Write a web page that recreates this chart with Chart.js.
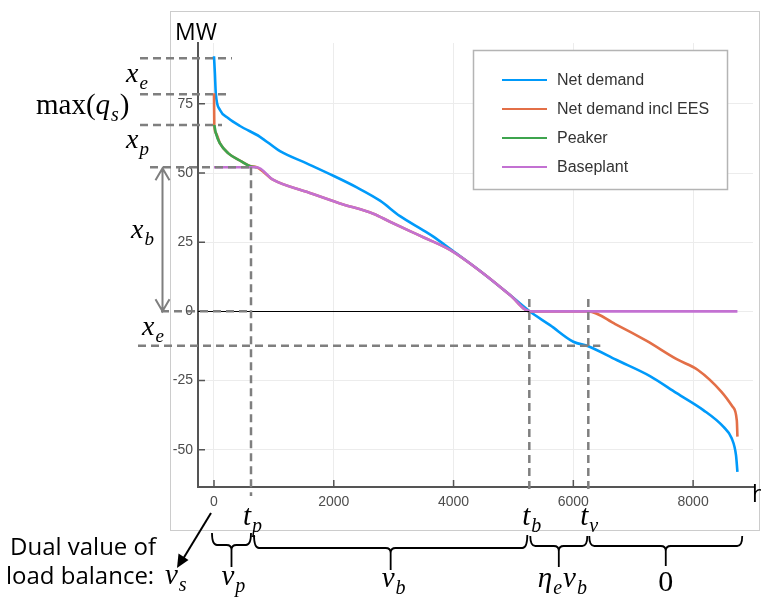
<!DOCTYPE html>
<html>
<head>
<meta charset="utf-8">
<script src="https://cdn.jsdelivr.net/npm/chart.js@4.4.1/dist/chart.umd.min.js"></script>
<style>
  html, body { margin: 0; padding: 0; background: #fff; }
  #wrap { width: 761px; height: 597px; }
</style>
</head>
<body>
<div id="wrap"><canvas id="dispatch" width="761" height="597"></canvas></div>
<script>
// duration curves: hours of the year sorted by net demand, MW
const demandHours = [0, 15, 30, 100, 240, 434, 768, 1102, 1547, 1993, 2384, 2772, 3107, 3495, 3663, 3941, 4497, 4943, 5270, 5611, 6000, 6250, 6724, 7280, 7726, 8170, 8504, 8644, 8716, 8740];
const demandMW    = [92.2, 86, 78.8, 72.8, 69.8, 67.0, 63.1, 57.9, 53.5, 49.0, 44.8, 40.0, 34.4, 29.3, 27.0, 22.6, 13.7, 5.9, 0, -5.0, -11.0, -12.6, -17.6, -23.4, -29.6, -35.7, -41.7, -45.9, -52.0, -58.0];

const peakerHours = [5, 30, 100, 240, 464, 603, 713];
const peakerMW    = [67.4, 64.5, 60.7, 57.1, 54.1, 52.5, 52.1];

const baseHours = [0, 713, 992, 1547, 2104, 2661, 2938, 3273, 3495, 3941, 4497, 4943, 5270, 8740];
const baseMW    = [52.1, 52.1, 47.5, 43.2, 39.0, 35.3, 32.4, 29.0, 26.8, 22.2, 13.7, 5.9, 0, 0];

// net demand with storage: clipped peak on top, charging tail below zero
const eesTopHours = [0];
const eesTopMW    = [78.8];
const eesTailHours = [6250, 6700, 7225, 7726, 8080, 8470, 8660, 8730, 8740];
const eesTailMW    = [0, -4.6, -10.7, -17.3, -21.2, -29.0, -34.5, -39.5, -45.3];

const xTicks = [0, 2000, 4000, 6000, 8000];
const yTicks = [-50, -25, 0, 25, 50, 75];

// levels (MW) and times (h) marked with dashed guides
const lvlPeak = 91.5, lvlEes = 78.5, lvlPeaker = 67.4, lvlBase = 52.1, lvlStore = -12.4;
const tP = 618, tB = 5265, tV = 6250, tEnd = 8820;

const colors = ['#009afa', '#e36f47', '#3ea44e', '#c371d2'];

const pts = (xs, ys) => xs.map((x, i) => ({ x, y: ys[i] }));

const eesPoints = [
  ...pts(eesTopHours, eesTopMW),
  ...pts(peakerHours, peakerMW),
  ...pts(baseHours.slice(2, -1), baseMW.slice(2, -1)),
  ...pts(eesTailHours, eesTailMW)
];

const SERIF = '"Liberation Serif", "DejaVu Serif", serif';
const SANS = '"Open Sans", "Noto Sans", sans-serif';

// draws runs like x_e, max(q_s), η_e v_b
function mathText(ctx, x, y, parts, size) {
  ctx.textAlign = 'left';
  ctx.textBaseline = 'alphabetic';
  const sub = Math.round(size * 0.68);
  for (const p of parts) {
    ctx.font = (p.upright ? '' : 'italic ') + size + 'px ' + SERIF;
    ctx.fillText(p.t, x, y);
    x += ctx.measureText(p.t).width;
    if (p.sub) {
      ctx.font = 'italic ' + sub + 'px ' + SERIF;
      ctx.fillText(p.sub, x + 1, y + size * 0.24);
      x += ctx.measureText(p.sub).width + 2;
    }
  }
}

function dashed(ctx, x1, y1, x2, y2) {
  ctx.save();
  ctx.strokeStyle = '#7f7f7f';
  ctx.lineWidth = 2.5;
  ctx.setLineDash([8, 5]);
  ctx.beginPath();
  ctx.moveTo(x1, y1);
  ctx.lineTo(x2, y2);
  ctx.stroke();
  ctx.restore();
}

// underbrace with a long stem pointing down
function brace(ctx, x1, x2, yTop, yLine, yTip) {
  const xc = (x1 + x2) / 2, r = 5;
  ctx.beginPath();
  ctx.moveTo(x1, yTop);
  ctx.quadraticCurveTo(x1, yLine, x1 + r, yLine);
  ctx.lineTo(xc - r, yLine);
  ctx.quadraticCurveTo(xc, yLine, xc, yLine + r);
  ctx.lineTo(xc, yTip);
  ctx.moveTo(xc, yLine + r);
  ctx.quadraticCurveTo(xc, yLine, xc + r, yLine);
  ctx.lineTo(x2 - r, yLine);
  ctx.quadraticCurveTo(x2, yLine, x2, yTop);
  ctx.stroke();
  return xc;
}

const annotations = {
  id: 'annotations',
  beforeDraw(chart) {
    const ctx = chart.ctx;
    ctx.save();
    ctx.strokeStyle = '#cccccc';
    ctx.lineWidth = 1;
    ctx.strokeRect(170.5, 11.5, 589, 519);
    ctx.restore();
  },
  afterDraw(chart) {
    const ctx = chart.ctx;
    const xs = chart.scales.x, ys = chart.scales.y;
    const { left, bottom } = chart.chartArea;
    const X = v => xs.getPixelForValue(v);
    const Y = v => ys.getPixelForValue(v);
    ctx.save();

    // inward tick marks
    ctx.strokeStyle = '#555';
    ctx.lineWidth = 1.5;
    ctx.beginPath();
    xTicks.forEach(v => { ctx.moveTo(X(v), bottom); ctx.lineTo(X(v), bottom - 7); });
    yTicks.forEach(v => { ctx.moveTo(left, Y(v)); ctx.lineTo(left + 7, Y(v)); });
    ctx.stroke();

    // zero line up to the baseplant cut-off
    ctx.strokeStyle = '#000';
    ctx.lineWidth = 1;
    ctx.beginPath();
    ctx.moveTo(left, Math.round(Y(0)) + 0.5);
    ctx.lineTo(X(tB), Math.round(Y(0)) + 0.5);
    ctx.stroke();

    // dashed guides
    dashed(ctx, 140, Y(lvlPeak), 232, Y(lvlPeak));
    dashed(ctx, 140, Y(lvlEes), 229, Y(lvlEes));
    dashed(ctx, 140, Y(lvlPeaker), 222, Y(lvlPeaker));
    dashed(ctx, 150, Y(lvlBase), X(tP), Y(lvlBase));
    dashed(ctx, 161, Y(0), X(tP), Y(0));
    dashed(ctx, 138, Y(lvlStore), X(tV) + 12, Y(lvlStore));
    dashed(ctx, X(tP), Y(lvlBase), X(tP), 496);
    dashed(ctx, X(tB), Y(4.5), X(tB), 494);
    dashed(ctx, X(tV), Y(4.5), X(tV), 494);

    // x_b span arrow
    const ax = 162.5, aTop = Y(lvlBase) + 1, aBot = Y(0);
    ctx.strokeStyle = '#7f7f7f';
    ctx.lineWidth = 2;
    ctx.beginPath();
    ctx.moveTo(ax, aTop); ctx.lineTo(ax, aBot);
    ctx.moveTo(ax - 7, aTop + 12); ctx.lineTo(ax, aTop); ctx.lineTo(ax + 7, aTop + 12);
    ctx.moveTo(ax - 7, aBot - 12); ctx.lineTo(ax, aBot); ctx.lineTo(ax + 7, aBot - 12);
    ctx.stroke();

    // axis titles
    ctx.fillStyle = '#000';
    ctx.font = '23px ' + SANS;
    ctx.textAlign = 'left';
    ctx.textBaseline = 'alphabetic';
    ctx.fillText('MW', 175, 40);
    ctx.fillText('h', 752, 502);

    // symbols along the y axis
    mathText(ctx, 126, 82, [{ t: 'x', sub: 'e' }], 28);
    mathText(ctx, 36, 114, [{ t: 'max(', upright: true }, { t: 'q', sub: 's' }, { t: ')', upright: true }], 29);
    mathText(ctx, 126, 148, [{ t: 'x', sub: 'p' }], 28);
    mathText(ctx, 131, 238, [{ t: 'x', sub: 'b' }], 28);
    mathText(ctx, 142, 335, [{ t: 'x', sub: 'e' }], 28);

    // switch times below the x axis
    mathText(ctx, X(tP) - 8, 525, [{ t: 't', sub: 'p' }], 29);
    mathText(ctx, X(tB) - 7, 525, [{ t: 't', sub: 'b' }], 29);
    mathText(ctx, X(tV) - 8, 525, [{ t: 't', sub: 'v' }], 29);

    // dual values per interval
    ctx.strokeStyle = '#000';
    ctx.lineWidth = 1.8;
    const c1 = brace(ctx, X(0) - 2, X(tP), 533, 545, 567);
    const c2 = brace(ctx, X(tP) + 3, X(tB) - 2, 535, 548, 570);
    const c3 = brace(ctx, X(tB) + 1, X(tV) - 1, 536, 546, 567);
    const c4 = brace(ctx, X(tV) + 1, X(tEnd), 536, 546, 566);
    mathText(ctx, c1 - 10, 585, [{ t: 'v', sub: 'p' }], 29);
    mathText(ctx, c2 - 9, 587, [{ t: 'v', sub: 'b' }], 29);
    mathText(ctx, c3 - 21, 587, [{ t: 'η', sub: 'e' }, { t: 'v', sub: 'b' }], 29);
    ctx.font = '30px ' + SERIF;
    ctx.textAlign = 'center';
    ctx.fillText('0', c4, 591);

    // note on the load balance dual
    ctx.fillStyle = '#000';
    ctx.textAlign = 'left';
    ctx.font = '24px ' + SANS;
    ctx.fillText('Dual value of', 10, 555);
    ctx.fillText('load balance:', 6, 584);
    mathText(ctx, 165, 584, [{ t: 'v', sub: 's' }], 29);
    ctx.lineWidth = 2;
    ctx.beginPath();
    ctx.moveTo(X(0) - 3, 513);
    ctx.lineTo(183, 559);
    ctx.stroke();
    ctx.beginPath();
    ctx.moveTo(177, 568);
    ctx.lineTo(178.5, 553.5);
    ctx.lineTo(188.5, 560);
    ctx.closePath();
    ctx.fill();

    // legend
    const lx = 473.5, ly = 50.5;
    ctx.fillStyle = '#fff';
    ctx.fillRect(lx, ly, 254, 139);
    ctx.strokeStyle = '#b4b4b4';
    ctx.lineWidth = 1.5;
    ctx.strokeRect(lx, ly, 254, 139);
    ctx.font = '16px "Liberation Sans", Arial, sans-serif';
    ctx.textBaseline = 'middle';
    chart.data.datasets.forEach((ds, i) => {
      const ry = 80 + i * 29;
      ctx.strokeStyle = ds.borderColor;
      ctx.lineWidth = 2;
      ctx.beginPath();
      ctx.moveTo(502, ry); ctx.lineTo(547, ry);
      ctx.stroke();
      ctx.fillStyle = '#333';
      ctx.fillText(ds.label, 557, ry + 1);
    });
    ctx.restore();
  }
};

const lineStyle = { borderWidth: 2.6, pointRadius: 0, fill: false, cubicInterpolationMode: 'monotone' };

new Chart(document.getElementById('dispatch'), {
  type: 'line',
  data: {
    datasets: [
      { label: 'Net demand', data: pts(demandHours, demandMW), borderColor: colors[0], order: 4, ...lineStyle },
      { label: 'Net demand incl EES', data: eesPoints, borderColor: colors[1], order: 3, ...lineStyle },
      { label: 'Peaker', data: pts(peakerHours, peakerMW), borderColor: colors[2], order: 2, ...lineStyle },
      { label: 'Baseplant', data: pts(baseHours, baseMW), borderColor: colors[3], order: 1, ...lineStyle }
    ]
  },
  options: {
    responsive: false,
    devicePixelRatio: 1,
    animation: false,
    layout: { padding: { top: 43, right: 8, left: 0, bottom: 0 } },
    plugins: { legend: { display: false }, tooltip: { enabled: false } },
    scales: {
      x: {
        type: 'linear', min: -267, max: 9000,
        afterBuildTicks: s => { s.ticks = xTicks.map(value => ({ value })); },
        afterFit: s => { s.height = 110; },
        grid: { color: '#ececec', drawTicks: false },
        border: { color: '#555', width: 2 },
        ticks: { color: '#4d4d4d', font: { family: 'Liberation Sans', size: 14 }, padding: 7, callback: v => String(v) }
      },
      y: {
        min: -63.5, max: 97,
        afterBuildTicks: s => { s.ticks = yTicks.map(value => ({ value })); },
        afterFit: s => { s.width = 198; },
        grid: { color: '#ececec', drawTicks: false },
        border: { color: '#555', width: 2 },
        ticks: { color: '#4d4d4d', font: { family: 'Liberation Sans', size: 14 }, padding: 5, callback: v => String(v) }
      }
    }
  },
  plugins: [annotations]
});
</script>
</body>
</html>
